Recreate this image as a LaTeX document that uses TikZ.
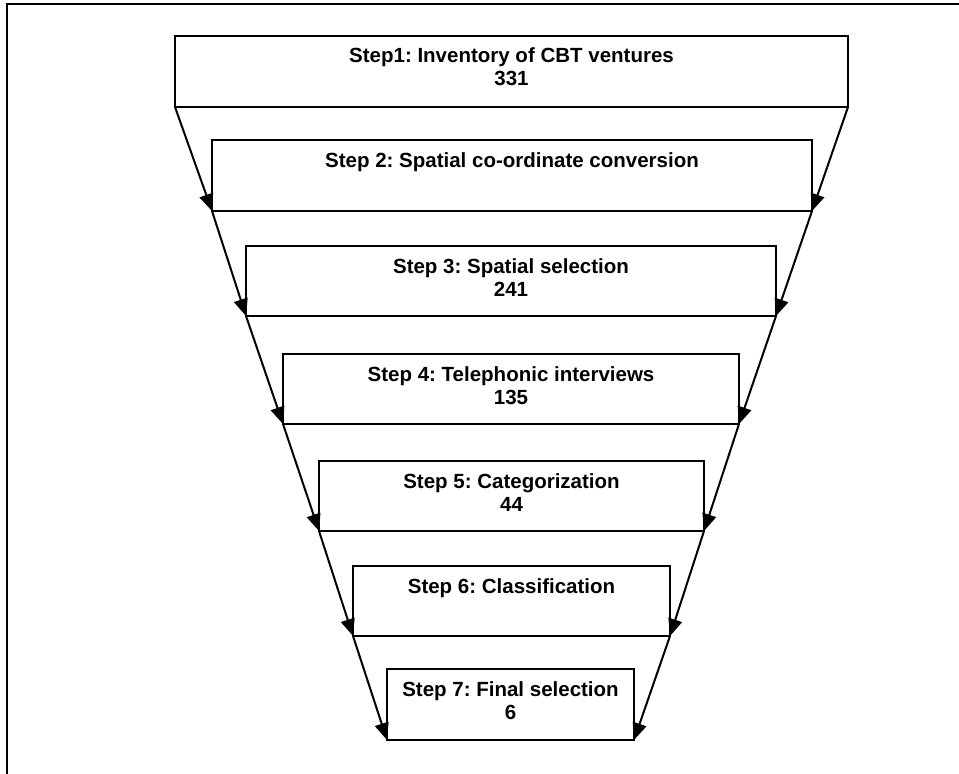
\documentclass[tikz,border=0pt]{standalone}
\usepackage{fontspec}
\setmainfont{Liberation Sans}
\usetikzlibrary{arrows.meta,calc}
\frenchspacing
\begin{document}
\begin{tikzpicture}[x=1bp,y=-1bp,
  stepbox/.style={draw,line width=1.5bp,inner sep=0pt,outer sep=0pt,anchor=north west},
  steptext/.style={anchor=base,inner sep=0pt,font=\fontsize{20.5bp}{23bp}\selectfont\bfseries},
  flow/.style={line width=2bp,-{Triangle[length=17bp,width=14bp]}}]
\useasboundingbox (0,0) rectangle (959,774);
\draw[line width=2.2bp] (7,774) -- (7,4) -- (959,4);
\node[stepbox,minimum width=673bp,minimum height=71bp] (b1) at (175,36) {};
\node[stepbox,minimum width=600bp,minimum height=71bp] (b2) at (212,140) {};
\node[stepbox,minimum width=530bp,minimum height=70bp] (b3) at (246,246) {};
\node[stepbox,minimum width=456bp,minimum height=70bp] (b4) at (283,354) {};
\node[stepbox,minimum width=385bp,minimum height=70bp] (b5) at (319,461) {};
\node[stepbox,minimum width=317bp,minimum height=70bp] (b6) at (353,566) {};
\node[stepbox,minimum width=247bp,minimum height=71bp] (b7) at (387,669) {};
\node[steptext] (t1) at ($(b1.north)+(0,27)$) {Step1: Inventory of CBT ventures};
\node[steptext] (n1) at ($(b1.north)+(0,50)$) {331};
\node[steptext] (t2) at ($(b2.north)+(0,27)$) {Step 2: Spatial co-ordinate conversion};
\node[steptext] (t3) at ($(b3.north)+(0,27)$) {Step 3: Spatial selection};
\node[steptext] (n3) at ($(b3.north)+(0,50)$) {241};
\node[steptext] (t4) at ($(b4.north)+(0,27)$) {Step 4: Telephonic interviews};
\node[steptext] (n4) at ($(b4.north)+(0,50)$) {135};
\node[steptext] (t5) at ($(b5.north)+(0,27)$) {Step 5: Categorization};
\node[steptext] (n5) at ($(b5.north)+(0,50)$) {44};
\node[steptext] (t6) at ($(b6.north)+(0,27)$) {Step 6: Classification};
\node[steptext] (t7) at ($(b7.north)+(0,27)$) {Step 7: Final selection};
\node[steptext] (n7) at ($(b7.north)+(0,50)$) {6};
\foreach \a/\b in {b1/b2,b2/b3,b3/b4,b4/b5,b5/b6,b6/b7}{
  \draw[flow] (\a.south west) -- (\b.south west);
  \draw[flow] (\a.south east) -- (\b.south east);
}
\end{tikzpicture}
\end{document}
